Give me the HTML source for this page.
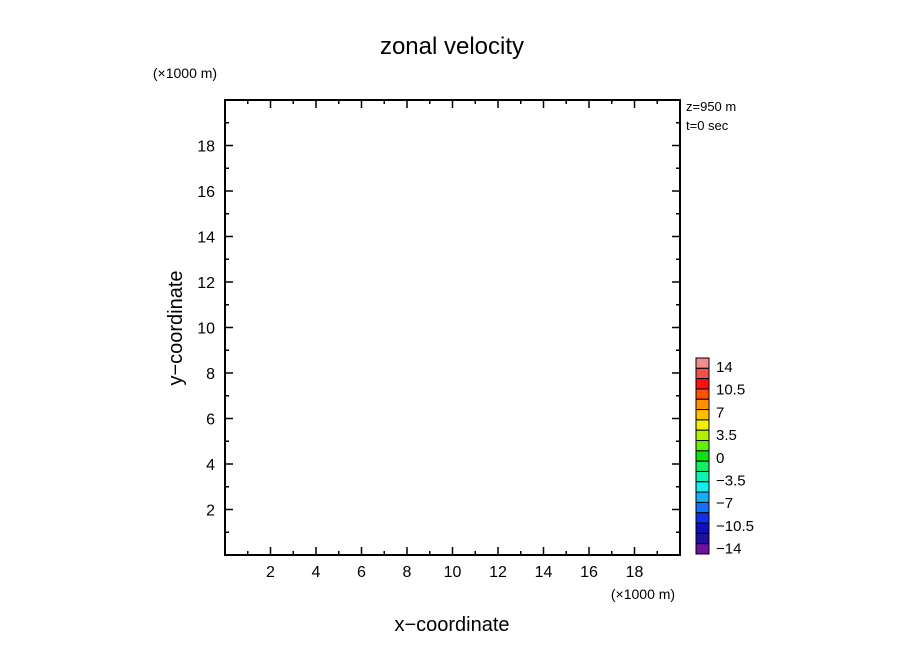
<!DOCTYPE html>
<html><head><meta charset="utf-8"><style>body{margin:0;background:#fff}svg{display:block}text{font-family:"Liberation Sans",sans-serif}</style></head>
<body>
<svg id="c" width="904" height="654" xmlns="http://www.w3.org/2000/svg">
<text x="452" y="54" font-size="24" text-anchor="middle">zonal velocity</text>
<text x="185" y="78" font-size="14" text-anchor="middle">(×1000 m)</text>
<text x="643" y="599" font-size="14" text-anchor="middle">(×1000 m)</text>
<text x="452" y="631" font-size="20" text-anchor="middle">x−coordinate</text>
<text transform="translate(182,328) rotate(-90)" font-size="20" text-anchor="middle">y−coordinate</text>
<text x="686" y="111" font-size="13">z=950 m</text>
<text x="686" y="130" font-size="13">t=0 sec</text>
<rect x="225" y="100" width="455" height="455" fill="none" stroke="#000" stroke-width="2"/>
<g id="ticks"></g><g id="cbar"></g>
</svg>
<script>
const xTicks=[2,4,6,8,10,12,14,16,18];
const yTicks=[2,4,6,8,10,12,14,16,18];
const cbLabels=["14","10.5","7","3.5","0","−3.5","−7","−10.5","−14"];
const cbColors=["#f08c8c","#f05050","#ff1010","#ff5000","#ff9000","#ffc000","#f0f000","#b0f000","#60f000","#10e010","#10f060","#10f0b0","#10f0f0","#10b0ff","#1070ff","#1030f0","#1010c0","#2010a0","#7010a0"];
const svg=document.getElementById('c'),NS="http://www.w3.org/2000/svg";
const x0=225,x1=680,y0=555,y1=100,dmax=20;
const sx=v=>x0+(x1-x0)*v/dmax, sy=v=>y0-(y0-y1)*v/dmax;
const tg=document.getElementById('ticks');
function line(a,b,c,d,w){const l=document.createElementNS(NS,'line');l.setAttribute('x1',a);l.setAttribute('y1',b);l.setAttribute('x2',c);l.setAttribute('y2',d);l.setAttribute('stroke','#000');l.setAttribute('stroke-width',w||1.5);tg.appendChild(l);return l;}
for(let v=1;v<dmax;v++){const L=(v%2==0)?8:4;
const a=line(sx(v),y0,sx(v),y0-L);
const b=line(sx(v),y1,sx(v),y1+L);
const c=line(x0,sy(v),x0+L,sy(v));
const d=line(x1,sy(v),x1-L,sy(v));}
function txt(x,y,s,anc,fs){const t=document.createElementNS(NS,'text');t.setAttribute('x',x);t.setAttribute('y',y);t.setAttribute('font-size',fs||16);t.setAttribute('text-anchor',anc);t.textContent=s;svg.appendChild(t);return t;}
xTicks.forEach(v=>{const t=txt(sx(v),577,String(v),'middle');});
yTicks.forEach(v=>{const t=txt(x0-10,sy(v)+6,String(v),'end');});
const cg=document.getElementById('cbar');const cbTop=358,cbBot=554,bh=(cbBot-cbTop)/cbColors.length;
cbColors.forEach((col,i)=>{const r=document.createElementNS(NS,'rect');r.setAttribute('x',696);r.setAttribute('y',cbTop+i*bh);r.setAttribute('width',13);r.setAttribute('height',bh);r.setAttribute('fill',col);r.setAttribute('stroke','#000');r.setAttribute('stroke-width',1);


cg.appendChild(r);});
cbLabels.forEach((s,i)=>{const t=txt(716,372+i*22.7,s,'start',15);});
</script>
</body></html>
